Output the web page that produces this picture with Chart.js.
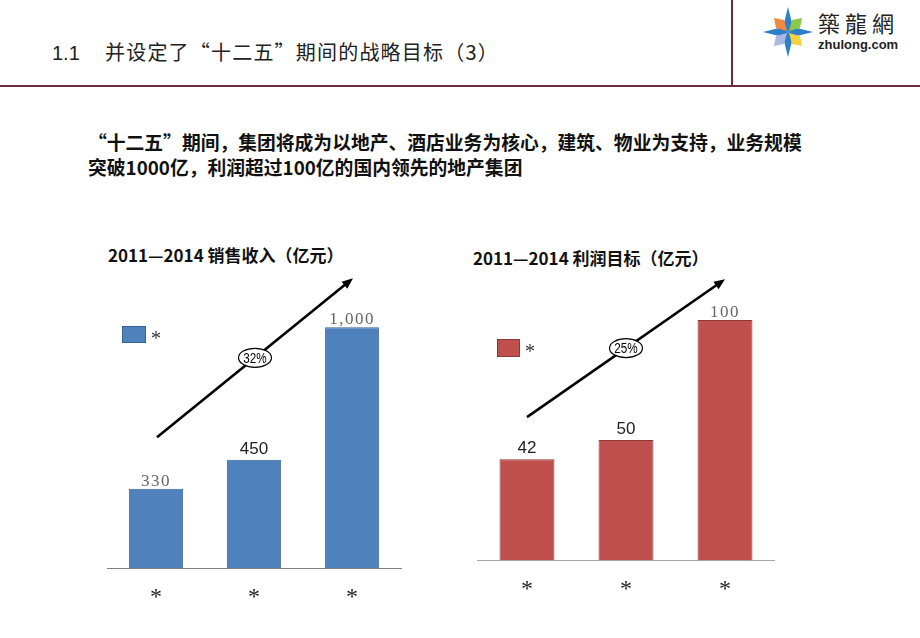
<!DOCTYPE html>
<html>
<head>
<meta charset="utf-8">
<script src="https://cdn.jsdelivr.net/npm/chart.js@4.4.0/dist/chart.umd.min.js"></script>
<style>
  body { margin: 0; width: 920px; height: 638px; background: #fff; position: relative; overflow: hidden;
         font-family: "Noto Sans CJK SC", "Liberation Sans", sans-serif; }
  .abs { position: absolute; white-space: nowrap; }
  #head { left: 52px; top: 41px; font-size: 20px; line-height: 22px; color: #222; letter-spacing: 1.2px; font-family: "Noto Sans CJK SC", sans-serif; }
  #head span { font-family: "Liberation Sans", sans-serif; letter-spacing: 0; display: inline-block; width: 53px; }
  #hline { left: 0; top: 85px; width: 920px; height: 2px; background: #6b2a3e; }
  #vline { left: 731px; top: 0; width: 2px; height: 86px; background: #6b2a3e; }
  #body { left: 88px; top: 129px; font-size: 18.8px; line-height: 25px; font-weight: bold; color: #111; }
  .ctitle { font-size: 17px; line-height: 18px; font-weight: bold; color: #111; }
  #t1 { left: 108px; top: 246px; }
  #t2 { left: 473px; top: 249px; }
  #logoTxt { left: 818px; top: 10px; font-size: 22px; line-height: 24px; color: #222; font-family: "Noto Sans CJK TC", serif; letter-spacing: 5px; }
  #logoUrl { left: 818px; top: 38px; font-size: 13px; line-height: 14px; font-weight: bold; color: #222; font-family: "Liberation Sans", sans-serif; }
  #c1box { left: 80px; top: 265px; width: 340px; height: 365px; }
  #c2box { left: 460px; top: 258px; width: 330px; height: 372px; }
</style>
</head>
<body>
<div class="abs" id="head"><span>1.1</span>并设定了“十二五”期间的战略目标（3）</div>
<div class="abs" id="hline"></div>
<div class="abs" id="vline"></div>
<svg class="abs" style="left:762px;top:6px" width="52" height="52" viewBox="0 0 52 52">
  <polygon points="26,1 31,21 26,26 21,21" fill="#2f7fc8"/>
  <polygon points="51,26 31,31 26,26 31,21" fill="#2f7fc8"/>
  <polygon points="26,51 21,31 26,26 31,31" fill="#2f7fc8"/>
  <polygon points="1,26 21,21 26,26 21,31" fill="#2f7fc8"/>
  <polygon points="12,12 22,14 25,25 14,22" fill="#f08a3c"/>
  <polygon points="40,12 38,22 27,25 30,14" fill="#8cc84b"/>
  <polygon points="12,40 14,30 25,27 22,38" fill="#a9b8e0"/>
  <polygon points="40,40 30,38 27,27 38,30" fill="#f3d23c"/>
</svg>
<div class="abs" id="logoTxt">築龍網</div>
<div class="abs" id="logoUrl">zhulong.com</div>
<div class="abs" id="body">“十二五”期间，集团将成为以地产、酒店业务为核心，建筑、物业为支持，业务规模<br>突破1000亿，利润超过100亿的国内领先的地产集团</div>
<div class="abs ctitle" id="t1">2011—2014 销售收入（亿元）</div>
<div class="abs ctitle" id="t2">2011—2014 利润目标（亿元）</div>
<div class="abs" id="c1box"><canvas id="c1"></canvas></div>
<div class="abs" id="c2box"><canvas id="c2"></canvas></div>
<script>
// data
const categories = ['*', '*', '*'];
const legendLabel = '*';
const salesValues = [330, 450, 1000];
const salesLabels = ['330', '450', '1,000'];
const salesGrowth = '32%';
const profitValues = [42, 50, 100];
const profitLabels = ['42', '50', '100'];
const profitGrowth = '25%';

const serifLbl = { font: '17px "Liberation Serif", serif', color: '#666', gap: 3, spacing: '1.5px' };
const sansLbl = { font: '17px "Liberation Sans", sans-serif', color: '#222', gap: 6, spacing: '0px' };

// labels, arrow, ellipse and legend drawn on top of the bars
const decorPlugin = {
  id: 'decor',
  afterDatasetsDraw(chart, args, opts) {
    const ctx = chart.ctx;
    const xs = chart.scales.x, ys = chart.scales.y;
    const ds = chart.data.datasets[0];
    const meta = chart.getDatasetMeta(0);

    meta.data.forEach((bar, i) => {
      const st = opts.labelStyles[i];
      ctx.save();
      ctx.font = st.font;
      ctx.letterSpacing = st.spacing;
      ctx.fillStyle = st.color;
      ctx.textAlign = 'center';
      ctx.textBaseline = 'alphabetic';
      ctx.fillText(opts.labels[i], bar.x, bar.y - st.gap);
      ctx.restore();
    });

    // growth arrow
    const x1 = xs.getPixelForValue(opts.arrow.from[0]) + opts.arrow.dx;
    const y1 = ys.getPixelForValue(opts.arrow.from[1]);
    const x2 = xs.getPixelForValue(opts.arrow.to[0]) + opts.arrow.dx;
    const y2 = ys.getPixelForValue(opts.arrow.to[1]);
    const ang = Math.atan2(y2 - y1, x2 - x1);
    const hl = 11, hw = 4.5;
    ctx.save();
    ctx.strokeStyle = '#000';
    ctx.fillStyle = '#000';
    ctx.lineWidth = 2.6;
    ctx.beginPath();
    ctx.moveTo(x1, y1);
    ctx.lineTo(x2 - Math.cos(ang) * hl * 0.8, y2 - Math.sin(ang) * hl * 0.8);
    ctx.stroke();
    ctx.beginPath();
    ctx.moveTo(x2, y2);
    ctx.lineTo(x2 - Math.cos(ang) * hl - Math.sin(ang) * hw, y2 - Math.sin(ang) * hl + Math.cos(ang) * hw);
    ctx.lineTo(x2 - Math.cos(ang) * hl + Math.sin(ang) * hw, y2 - Math.sin(ang) * hl - Math.cos(ang) * hw);
    ctx.closePath();
    ctx.fill();

    // ellipse with growth rate
    const mx = (x1 + x2) / 2, my = (y1 + y2) / 2;
    ctx.beginPath();
    ctx.ellipse(mx, my, 16.5, 9.5, 0, 0, Math.PI * 2);
    ctx.fillStyle = '#fff';
    ctx.fill();
    ctx.lineWidth = 1.2;
    ctx.stroke();
    ctx.fillStyle = '#000';
    ctx.font = '15px "Liberation Sans", sans-serif';
    ctx.textAlign = 'center';
    ctx.textBaseline = 'middle';
    ctx.translate(mx, my + 1);
    ctx.scale(0.78, 1);
    ctx.fillText(opts.growth, 0, 0);
    ctx.restore();

    // legend
    const ca = chart.chartArea;
    const lg = opts.legend;
    const lx = ca.left + lg.dx, ly = ca.top + lg.dy;
    ctx.save();
    ctx.fillStyle = ds.backgroundColor;
    ctx.fillRect(lx, ly, lg.w, lg.h);
    ctx.strokeStyle = ds.borderColor;
    ctx.lineWidth = 1;
    ctx.strokeRect(lx + 0.5, ly + 0.5, lg.w - 1, lg.h - 1);
    ctx.fillStyle = '#333';
    ctx.font = '20px "Liberation Serif", serif';
    ctx.textAlign = 'left';
    ctx.textBaseline = 'middle';
    ctx.fillText(ds.label, lx + lg.w + 5, ly + lg.h / 2 + 5);
    ctx.restore();
  }
};

function makeChart(id, values, labels, growth, color, border, axisColor, yMax, pad, arrow, legend) {
  return new Chart(document.getElementById(id), {
    type: 'bar',
    data: {
      labels: categories,
      datasets: [{
        label: legendLabel,
        data: values,
        backgroundColor: color,
        borderColor: border,
        borderWidth: 1,
        borderSkipped: 'bottom',
        barPercentage: 0.555,
        categoryPercentage: 1
      }]
    },
    options: {
      responsive: true,
      maintainAspectRatio: false,
      animation: false,
      layout: { padding: pad },
      plugins: {
        legend: { display: false },
        tooltip: { enabled: false },
        decor: {
          labels: labels,
          labelStyles: labels.map(l => /^(330|1,000|100)$/.test(l) ? serifLbl : sansLbl),
          growth: growth,
          arrow: arrow,
          legend: legend
        }
      },
      scales: {
        x: {
          grid: { display: false, drawTicks: false },
          border: { display: true, color: axisColor, width: 1 },
          ticks: { color: '#222', padding: 15, font: { family: '"Liberation Serif", serif', size: 24 } }
        },
        y: { display: false, min: 0, max: yMax }
      }
    },
    plugins: [decorPlugin]
  });
}

makeChart('c1', salesValues, salesLabels, salesGrowth, '#4f81bd', '#3a618f', '#808080', 1200,
  { left: 27, right: 19, top: 14, bottom: 3 },
  { from: [0, 543], to: [2, 1203], dx: 1 },
  { dx: 15, dy: 47, w: 24, h: 17 });

makeChart('c2', profitValues, profitLabels, profitGrowth, '#c0504d', '#8c3836', '#a6a6a6', 120,
  { left: 17.5, right: 15.5, top: 14, bottom: 11 },
  { from: [0, 59.6], to: [2, 117], dx: 0 },
  { dx: 19.5, dy: 67, w: 23, h: 18 });
</script>
</body>
</html>
